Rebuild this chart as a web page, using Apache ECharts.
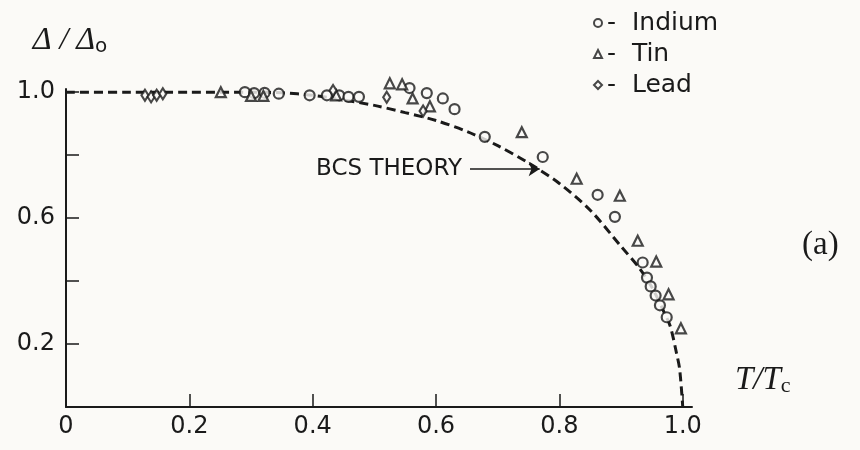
<!DOCTYPE html>
<html>
<head>
<meta charset="utf-8">
<script src="https://cdn.jsdelivr.net/npm/echarts@6/dist/echarts.min.js"></script>
<style>html,body{margin:0;padding:0;background:#fbfaf7;}#chart{width:860px;height:450px;}</style>
</head>
<body>
<div id="chart"></div>
<script>
// ---- data ----
const indium = [[0.290,1.000],[0.305,0.997],[0.322,0.998],[0.345,0.995],[0.395,0.990],[0.423,0.990],[0.443,0.990],[0.458,0.985],[0.475,0.985],[0.557,1.013],[0.585,0.997],[0.611,0.980],[0.630,0.946],[0.679,0.858],[0.773,0.794],[0.862,0.674],[0.890,0.604],[0.935,0.459],[0.942,0.411],[0.948,0.383],[0.956,0.354],[0.963,0.323],[0.974,0.285]];
const tin = [[0.251,1.000],[0.300,0.988],[0.320,0.988],[0.438,0.990],[0.525,1.028],[0.545,1.025],[0.562,0.980],[0.590,0.955],[0.739,0.873],[0.828,0.725],[0.898,0.671],[0.927,0.528],[0.957,0.462],[0.977,0.358],[0.997,0.250]];
const lead = [[0.128,0.990],[0.138,0.985],[0.147,0.990],[0.157,0.995],[0.433,1.005],[0.520,0.984],[0.579,0.940]];
const bcsX = [0, 0.1, 0.2, 0.3, 0.35, 0.4, 0.45, 0.5, 0.55, 0.6, 0.65, 0.7, 0.75, 0.8, 0.85, 0.9, 0.93, 0.95, 0.97, 0.98, 0.99, 0.995, 1.0];
const bcsY = [1, 1, 1, 1, 0.998, 0.99, 0.975, 0.958, 0.935, 0.91, 0.875, 0.83, 0.775, 0.71, 0.625, 0.51, 0.44, 0.38, 0.3, 0.255, 0.17, 0.12, 0];
const xTicks = [0.2, 0.4, 0.6, 0.8, 1.0];
const xTickLabels = [0, 0.2, 0.4, 0.6, 0.8, 1.0];
const yTicks = [0.2, 0.4, 0.6, 0.8, 1.0];
const yTickLabels = [0.2, 0.6, 1.0];
const seriesNames = ['Indium', 'Tin', 'Lead'];
const arrowFrom = [0.655, 0.756];
const arrowTo = [0.768, 0.756];

const INK = '#1a1a1a';
const PAPER = '#fbfaf7';
const chart = echarts.init(document.getElementById('chart'), null, {renderer: 'canvas'});
const markerStyle = {color: PAPER, borderColor: INK, borderWidth: 2.2};
chart.setOption({
  backgroundColor: PAPER,
  animation: false,
  title: {
    text: '(a)', left: 797, top: 224,
    textStyle: {fontFamily: 'Liberation Serif', fontSize: 33, fontWeight: 'normal', color: INK}
  },
  legend: {
    orient: 'vertical', left: 588, top: 5,
    itemWidth: 8, itemHeight: 8, itemGap: 5,
    data: seriesNames,
    formatter: n => '-  ' + n,
    textStyle: {fontFamily: 'DejaVu Sans', fontSize: 25, lineHeight: 26, color: INK}
  },
  grid: {left: 66, right: 168, top: 89, bottom: 43},
  xAxis: {
    type: 'value', min: 0, max: 1.015,
    name: '{t|T/T}{s|c}', nameLocation: 'end', nameGap: 43,
    nameTextStyle: {
      verticalAlign: 'bottom', padding: [0, 0, 10, 0],
      rich: {
        t: {fontFamily: 'Liberation Serif', fontStyle: 'italic', fontSize: 33, color: INK},
        s: {fontFamily: 'Liberation Serif', fontSize: 22, color: INK, padding: [12, 0, 0, 0]}
      }
    },
    axisLine: {show: true, lineStyle: {color: INK, width: 2}},
    axisTick: {show: true, inside: true, length: 13, customValues: xTicks, lineStyle: {color: INK, width: 1.5}},
    axisLabel: {
      customValues: xTickLabels, margin: 8,
      formatter: v => v === 0 ? '0' : v.toFixed(1),
      fontFamily: 'DejaVu Sans', fontSize: 24, color: INK
    },
    splitLine: {show: false}
  },
  yAxis: {
    type: 'value', min: 0, max: 1.01,
    name: '{t|Δ / Δ}{s|o}', nameLocation: 'end', nameGap: 32,
    nameTextStyle: {
      align: 'center', padding: [0, 0, 0, 8],
      rich: {
        t: {fontFamily: 'Liberation Serif', fontStyle: 'italic', fontSize: 32, color: INK},
        s: {fontFamily: 'DejaVu Sans', fontSize: 20, color: INK, padding: [12, 0, 0, 0]}
      }
    },
    axisLine: {show: true, lineStyle: {color: INK, width: 2}},
    axisTick: {show: true, inside: true, length: 13, customValues: yTicks, lineStyle: {color: INK, width: 1.5}},
    axisLabel: {
      customValues: yTickLabels, margin: 11,
      formatter: v => v.toFixed(1),
      fontFamily: 'DejaVu Sans', fontSize: 24, color: INK
    },
    splitLine: {show: false}
  },
  series: [
    {
      name: 'BCS theory', type: 'line', smooth: 0.3, symbol: 'none',
      data: bcsX.map((x, i) => [x, bcsY[i]]),
      lineStyle: {color: INK, width: 3, type: [9, 5]},
      z: 1,
      markLine: {
        silent: true, symbol: ['none', 'arrow'], symbolSize: 11,
        lineStyle: {color: INK, width: 1.6, type: 'solid'},
        label: {show: true, position: 'start', distance: 8, formatter: 'BCS THEORY',
          fontFamily: 'DejaVu Sans', fontSize: 23, color: INK},
        data: [[{coord: arrowFrom}, {coord: arrowTo}]]
      }
    },
    {name: 'Indium', type: 'scatter', symbol: 'circle', symbolSize: 10, data: indium, itemStyle: markerStyle, clip: false, z: 3},
    {name: 'Tin', type: 'scatter', symbol: 'triangle', symbolSize: 10, data: tin, itemStyle: markerStyle, clip: false, z: 3},
    {name: 'Lead', type: 'scatter', symbol: 'diamond', symbolSize: [7, 11], data: lead, itemStyle: markerStyle, clip: false, z: 3}
  ]
});
</script>
</body>
</html>
